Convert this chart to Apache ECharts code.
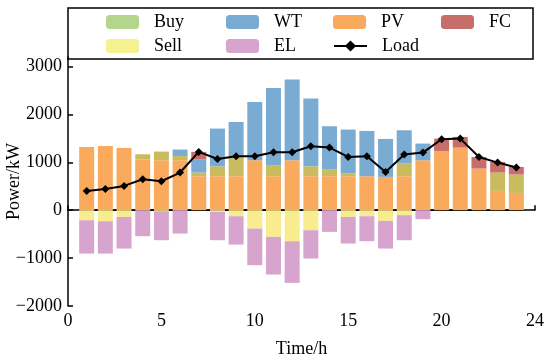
<!DOCTYPE html>
<html><head><meta charset="utf-8">
<script src="https://cdn.jsdelivr.net/npm/echarts@6/dist/echarts.min.js"></script>
<style>html,body{margin:0;padding:0;background:#fff}#c{width:550px;height:360px}</style>
</head><body><div id="c"></div>
<script>
const hours = [1,2,3,4,5,6,7,8,9,10,11,12,13,14,15,16,17,18,19,20,21,22,23,24];
const pv   = [1321,1343,1301,1058,1044,1044,710,710,710,1044,710,1044,710,710,710,710,696,710,1044,1238,1308,870,404,362];
const buy  = [0,0,0,111,181,90,77,208,403,0,230,0,208,139,55,0,0,265,0,0,0,0,383,383];
const wt   = [0,0,0,0,0,133,271,787,731,1217,1613,1684,1413,905,919,946,793,695,348,0,0,0,0,0];
const fc   = [0,0,0,0,0,0,160,0,0,0,0,0,0,0,0,0,0,0,0,258,223,243,222,159];
const sell = [-209,-230,-139,0,-20,0,0,-35,-125,-383,-557,-647,-418,0,-139,-125,-223,-104,0,0,0,0,0,0];
const el   = [-696,-675,-661,-543,-606,-487,0,-591,-592,-765,-786,-870,-591,-452,-557,-522,-577,-522,-188,0,0,0,0,0];
const load = [403,445,508,647,605,787,1218,1071,1127,1127,1211,1211,1336,1308,1113,1127,800,1162,1204,1482,1496,1113,995,891];
const xTickValues = [0,5,10,15,20,25];
const xTickLabels = ['0','5','10','15','20','24'];
const xMax = 25;
const zeroLineExtent = [0.6, 24.4];

const FONT = 'Liberation Serif';
const colors = {PV:'#f9aa5c', Buy:'#c9bc5e', WT:'#7aabd3', FC:'#c86e6a', Sell:'#f8ec8e', EL:'#d7a4cd'};
const legendColors = {Buy:'#b3d58c', Sell:'#f4f290'};

// hidden category axis covering 0..xMax, aligned with the value axis
const slots = Array.from({length:xMax+1},(_,i)=>i);
function slotData(arr){ return slots.map(s=>{const i=hours.indexOf(s);return i>=0?arr[i]:null;}); }
function barSeries(name, arr){
  return {name, type:'bar', stack:'total', barWidth:15, xAxisIndex:1, data:slotData(arr),
          itemStyle:{color:colors[name]}, z:2};
}
const legendPos = [
  ['Buy',106,13],['WT',226,13],['PV',333,13],['FC',441,13],
  ['Sell',106,37],['EL',226,37],['Load',333,37]
];
const chart = echarts.init(document.getElementById('c'), null, {renderer:'canvas'});
chart.setOption({
  animation:false,
  textStyle:{fontFamily:FONT},
  grid:{left:68, right:15, top:57, bottom:54, containLabel:false, outerBoundsMode:'none'},
  graphic:[{type:'rect', shape:{x:68,y:8,width:465,height:51}, style:{fill:'#fff',stroke:'#000',lineWidth:1.5}, z:0}],
  legend: legendPos.map(([n,x,y])=>({
    left:x, top:y, padding:0, itemWidth:33, itemHeight:14, selectedMode:false,
    data:[legendColors[n]?{name:n,itemStyle:{color:legendColors[n]}}:{name:n}],
    textStyle:{fontFamily:FONT,fontSize:18,color:'#000',padding:[0,0,0,10]}
  })),
  xAxis:[{type:'value', min:0, max:xMax, interval:5,
    name:'Time/h', nameLocation:'middle', nameGap:34, nameMoveOverlap:false,
    nameTextStyle:{fontFamily:FONT,fontSize:18,color:'#000'},
    axisLine:{lineStyle:{color:'#000',width:1.5}},
    axisTick:{inside:true,length:5,lineStyle:{color:'#000',width:1.5}},
    axisLabel:{fontFamily:FONT,fontSize:18,color:'#000',margin:6,
      formatter:v=>{const i=xTickValues.indexOf(v);return i>=0?xTickLabels[i]:'';}},
    splitLine:{show:false}},
   {type:'category', data:slots.map(String), boundaryGap:false, show:false, position:'bottom'}],
  yAxis:{type:'value', min:-2000, max:3200, interval:1000,
    name:'Power/kW', nameLocation:'middle', nameGap:45, nameMoveOverlap:false,
    nameTextStyle:{fontFamily:FONT,fontSize:18,color:'#000'},
    axisLine:{lineStyle:{color:'#000',width:1.5}},
    axisTick:{inside:true,length:5,lineStyle:{color:'#000',width:1.5}},
    axisLabel:{fontFamily:FONT,fontSize:18,color:'#000',margin:6,showMaxLabel:false,
      formatter:v=>String(v).replace('-','\u2212')},
    splitLine:{show:false}},
  series:[
    {name:'zero', type:'line', data:[[zeroLineExtent[0],0],[zeroLineExtent[1],0]], symbol:'none',
     lineStyle:{color:'#000',width:1.5}, z:1, silent:true},
    barSeries('PV',pv), barSeries('Buy',buy), barSeries('WT',wt), barSeries('FC',fc),
    barSeries('Sell',sell), barSeries('EL',el),
    {name:'Load', type:'line', data:hours.map((h,i)=>[h,load[i]]), symbol:'diamond', symbolSize:8,
     lineStyle:{color:'#000',width:2}, itemStyle:{color:'#000'}, z:5}
  ]
});
</script></body></html>
